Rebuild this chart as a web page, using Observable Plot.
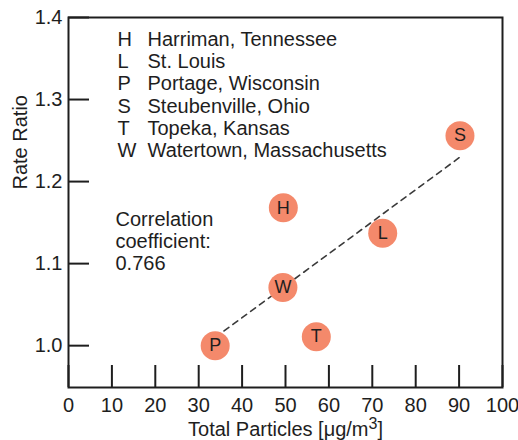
<!DOCTYPE html>
<html>
<head>
<meta charset="utf-8">
<script src="https://cdn.jsdelivr.net/npm/d3@7"></script>
<script src="https://cdn.jsdelivr.net/npm/@observablehq/plot@0.6"></script>
<style>
  body { margin: 0; background: #fff; }
  svg { display: block; }
</style>
</head>
<body>
<div id="chart"></div>
<script>
// Six sites: letter code, city, total particles (µg/m³), rate ratio
const codes = ["H", "L", "P", "S", "T", "W"];
const cities = [
  "Harriman, Tennessee",
  "St. Louis",
  "Portage, Wisconsin",
  "Steubenville, Ohio",
  "Topeka, Kansas",
  "Watertown, Massachusetts"
];
const particles = [49.5, 72.4, 33.8, 90.2, 57.1, 49.4];
const rateRatio = [1.168, 1.137, 1.0, 1.256, 1.011, 1.071];
const correlation = "0.766";

// Axis ticks
const xTicks = [0, 10, 20, 30, 40, 50, 60, 70, 80, 90, 100];
const yTicks = [1.0, 1.1, 1.2, 1.3, 1.4];

const width = 518, height = 440;
const margin = {top: 17, right: 16, bottom: 53, left: 68};
const innerW = width - margin.left - margin.right;
const innerH = height - margin.top - margin.bottom;

const sites = codes.map((code, i) => ({code, city: cities[i], x: particles[i], y: rateRatio[i]}));

const font = "'Liberation Sans', Arial, Helvetica, sans-serif";
const ink = "#1e1e1e";
const xLabel = "Total Particles [μg/m3]";

const chart = Plot.plot({
  width, height,
  marginTop: margin.top, marginRight: margin.right,
  marginBottom: margin.bottom, marginLeft: margin.left,
  style: {fontFamily: font, fontSize: "20px", color: ink, background: "#fff", overflow: "visible"},
  x: {domain: [0, 100]},
  y: {domain: [0.949, 1.4]},
  marks: [
    Plot.axisX(xTicks, {tickSize: 0, tickPadding: 10, fontSize: 20, label: null, fill: ink}),
    Plot.axisY(yTicks, {tickSize: 0, tickPadding: 6, fontSize: 20, label: null, fill: ink, tickFormat: d3.format(".1f")}),
    // inward ticks along bottom and left edges
    Plot.tickX(xTicks, {x: d => d, insetTop: innerH - 22, stroke: ink, strokeWidth: 2}),
    Plot.tickY(yTicks, {y: d => d, insetRight: innerW - 21, stroke: ink, strokeWidth: 2}),
    Plot.frame({stroke: ink, strokeWidth: 2}),
    // least-squares fit across the sites
    Plot.linearRegressionY(sites, {x: "x", y: "y", ci: 0, stroke: "#3a3a3a", strokeWidth: 1.6, strokeDasharray: "6,5"}),
    Plot.dot(sites, {x: "x", y: "y", r: 14.5, fill: "#f4896b", stroke: "none"}),
    Plot.text(sites, {x: "x", y: "y", text: "code", fontSize: 18, fill: ink}),
    // key of site letters
    Plot.text([codes.join("\n")], {frameAnchor: "top-left", dx: 49, dy: 12.8, lineAnchor: "top", textAnchor: "start", lineHeight: 1.11, fontSize: 20, fill: ink}),
    Plot.text([cities.join("\n")], {frameAnchor: "top-left", dx: 79, dy: 12.8, lineAnchor: "top", textAnchor: "start", lineHeight: 1.11, fontSize: 20, fill: ink}),
    Plot.text([`Correlation\ncoefficient:\n${correlation}`], {frameAnchor: "top-left", dx: 47, dy: 193, lineAnchor: "top", textAnchor: "start", lineHeight: 1.1, fontSize: 20, fill: ink}),
    // axis titles
    Plot.text([xLabel], {frameAnchor: "bottom", dy: 48, lineAnchor: "bottom", fontSize: 20, fill: ink}),
    Plot.text(["Rate Ratio"], {frameAnchor: "left", dx: -42, dy: -13, rotate: -90, lineAnchor: "bottom", fontSize: 20, fill: ink})
  ]
});

// raise the exponent in the x-axis title
d3.select(chart).selectAll("text")
  .filter(function () { return this.textContent === xLabel; })
  .each(function () {
    const t = d3.select(this);
    t.text(null);
    t.append("tspan").text("Total Particles [μg/m");
    t.append("tspan").attr("dy", "-0.4em").attr("font-size", "0.8em").text("3");
    t.append("tspan").attr("dy", "0.32em").text("]");
  });

document.getElementById("chart").appendChild(chart);
</script>
</body>
</html>
